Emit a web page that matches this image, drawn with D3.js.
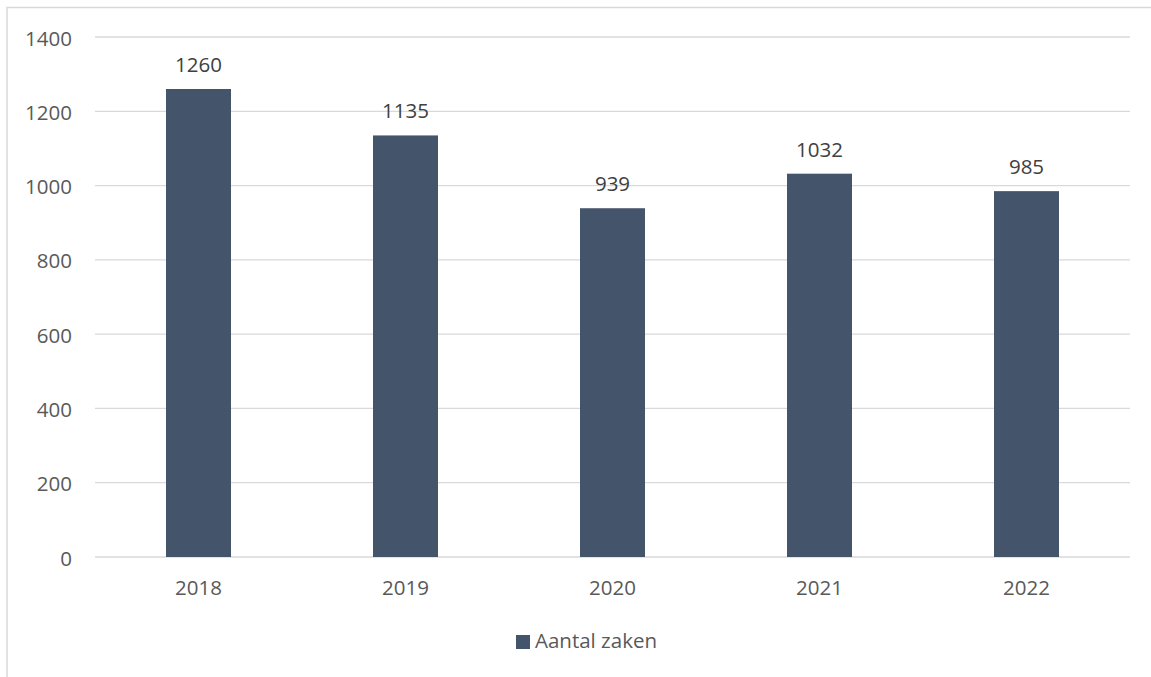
<!DOCTYPE html>
<html><head><meta charset="utf-8">
<script src="https://cdn.jsdelivr.net/npm/d3@7"></script>
<style>body{margin:0;background:#fff;}svg{display:block;font-family:"Open Sans","Liberation Sans",sans-serif;}</style>
</head><body>
<script>
const categories = ["2018","2019","2020","2021","2022"];
const values = [1260,1135,939,1032,985];
const yTicks = [0,200,400,600,800,1000,1200,1400];
const seriesName = "Aantal zaken";

const W=1151,H=677, FS=20.5, FF="'Open Sans',sans-serif";
const svg=d3.select("body").append("svg").attr("width",W).attr("height",H);
// chart border (partly clipped)
svg.append("rect").attr("x",7).attr("y",7.5).attr("width",1160).attr("height",700)
  .attr("fill","none").attr("stroke","#d9d9d9").attr("stroke-width",1.5);

const x=d3.scaleBand().domain(categories).range([95,1130]).paddingInner(0.686).paddingOuter(0.343);
const y=d3.scaleLinear().domain([0,1400]).range([557,37]);

const grid=svg.append("g");
grid.selectAll("line").data(yTicks).join("line")
  .attr("x1",95).attr("x2",1130).attr("y1",d=>y(d)).attr("y2",d=>y(d))
  .attr("stroke","#d9d9d9").attr("stroke-width",1.3);

const yAxis=d3.axisLeft(y).tickValues(yTicks).tickFormat(d3.format("d")).tickSize(0).tickPadding(0);
const ya=svg.append("g").attr("transform","translate(72,0)").call(yAxis);
ya.select(".domain").remove();
ya.selectAll("text").attr("font-size",FS).attr("fill","#595959").attr("font-family",FF).attr("dy",8);

const xAxis=d3.axisBottom(x).tickSize(0).tickPadding(0);
const xa=svg.append("g").attr("transform","translate(0,595)").call(xAxis);
xa.select(".domain").remove();
xa.selectAll("text").attr("font-size",FS).attr("fill","#595959").attr("dy",0).attr("font-family",FF);

svg.append("g").selectAll("rect").data(values).join("rect")
  .attr("x",(d,i)=>x(categories[i])).attr("width",x.bandwidth())
  .attr("y",d=>y(d)).attr("height",d=>y(0)-y(d)).attr("fill","#44546a");

svg.append("g").selectAll("text").data(values).join("text")
  .attr("x",(d,i)=>x(categories[i])+x.bandwidth()/2).attr("y",d=>y(d)-17)
  .attr("text-anchor","middle").attr("font-size",FS).attr("font-family",FF).attr("fill","#404040").text(d=>d);

// legend
svg.append("rect").attr("x",516).attr("y",635).attr("width",14).attr("height",14).attr("fill","#44546a");
svg.append("text").attr("x",535).attr("y",648).attr("font-size",FS).attr("font-family",FF).attr("fill","#595959").text(seriesName);
</script>
</body></html>
